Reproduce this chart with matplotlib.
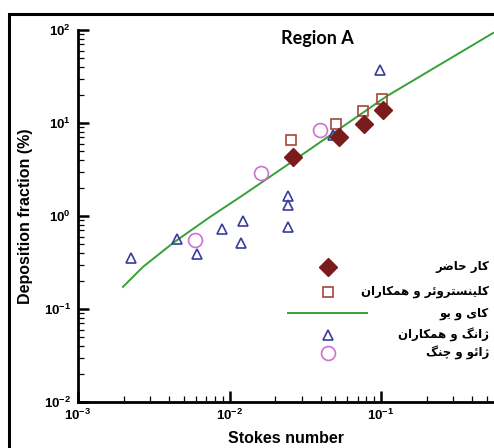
import numpy as np
import matplotlib
import matplotlib.pyplot as plt
from matplotlib import font_manager, ft2font
from matplotlib.patches import Rectangle
from matplotlib.ticker import FuncFormatter

plt.rcParams['mathtext.fontset'] = 'custom'
plt.rcParams['mathtext.rm'] = 'Liberation Sans'
plt.rcParams['mathtext.it'] = 'Liberation Sans:italic'
plt.rcParams['mathtext.bf'] = 'Liberation Sans:bold'

# ---- data ----
present_x = [0.0262, 0.0528, 0.0773, 0.103]
present_y = [4.3, 7.06, 9.75, 13.8]

klein_x = [0.0255, 0.0505, 0.076, 0.1016]
klein_y = [6.56, 9.75, 13.5, 18.1]

cai_x = [0.00198, 0.00268, 0.00424, 0.00743, 0.0123, 0.024, 0.1096, 0.55]
cai_y = [0.173, 0.283, 0.513, 0.975, 1.68, 3.53, 19.5, 93.0]

zhang_x = [0.00224, 0.0045, 0.0061, 0.0089, 0.0123, 0.012, 0.0243, 0.0243, 0.0243, 0.048, 0.0985]
zhang_y = [0.353, 0.566, 0.39, 0.72, 0.88, 0.51, 1.64, 1.31, 0.76, 7.5, 37.0]

zhao_x = [0.0059, 0.0161, 0.0395]
zhao_y = [0.55, 2.9, 8.4]

labels = ['کار حاضر', 'کلینستروئر و همکاران', 'کای و یو', 'ژانگ و همکاران', 'ژائو و چنگ']

# ---- simple Persian shaping (matplotlib has no RTL / joining) ----
FORMS = {
    'ا': (0xFE8D, 0xFE8E), 'ر': (0xFEAD, 0xFEAE), 'و': (0xFEED, 0xFEEE),
    'ژ': (0xFB8A, 0xFB8B),
    'ح': (0xFEA1, 0xFEA2, 0xFEA3, 0xFEA4), 'ض': (0xFEBD, 0xFEBE, 0xFEBF, 0xFEC0),
    'ل': (0xFEDD, 0xFEDE, 0xFEDF, 0xFEE0), 'ن': (0xFEE5, 0xFEE6, 0xFEE7, 0xFEE8),
    'س': (0xFEB1, 0xFEB2, 0xFEB3, 0xFEB4), 'ت': (0xFE95, 0xFE96, 0xFE97, 0xFE98),
    'ئ': (0xFE89, 0xFE8A, 0xFE8B, 0xFE8C), 'ه': (0xFEE9, 0xFEEA, 0xFEEB, 0xFEEC),
    'م': (0xFEE1, 0xFEE2, 0xFEE3, 0xFEE4), 'ک': (0xFB8E, 0xFB8F, 0xFB90, 0xFB91),
    'گ': (0xFB92, 0xFB93, 0xFB94, 0xFB95), 'ی': (0xFBFC, 0xFBFD, 0xFBFE, 0xFBFF),
    'چ': (0xFB7A, 0xFB7B, 0xFB7C, 0xFB7D),
}

fa_font = font_manager.findfont(font_manager.FontProperties(family='DejaVu Sans', weight='bold'))
ftf = ft2font.FT2Font(fa_font)


def shape(s):
    out = []
    for i, c in enumerate(s):
        if c not in FORMS:
            out.append(c)
            continue
        prev = s[i - 1] if i > 0 else None
        nxt = s[i + 1] if i + 1 < len(s) else None
        jp = prev in FORMS and len(FORMS[prev]) == 4
        jn = len(FORMS[c]) == 4 and nxt in FORMS
        f = FORMS[c]
        if jp and jn:
            g = f[3]
        elif jp:
            g = f[1]
        elif jn:
            g = f[2]
        else:
            g = f[0]
        out.append(chr(g) if ftf.get_char_index(g) else c)
    return ''.join(reversed(out))


fig = plt.figure(figsize=(4.94, 4.48), dpi=100)
ax = fig.add_axes([78 / 494, 46 / 448, 416 / 494, 372 / 448])

c_present = '#7b1c1c'
c_klein = '#a8443c'
c_cai = '#38a038'
c_zhang = '#3a3aa0'
c_zhao = '#d070d0'

ax.plot(cai_x, cai_y, color=c_cai, lw=1.4, zorder=2)
ax.plot(zhang_x, zhang_y, '^', ms=7.5, mfc='none', mec=c_zhang, mew=1.2, zorder=3)
ax.plot(zhao_x, zhao_y, 'o', ms=10, mfc='none', mec=c_zhao, mew=1.2, zorder=3)
ax.plot(klein_x, klein_y, 's', ms=7.5, mfc='none', mec=c_klein, mew=1.2, zorder=3)
ax.plot(present_x, present_y, 'D', ms=9.5, color=c_present, zorder=4)

ax.set_xscale('log')
ax.set_yscale('log')
ax.set_xlim(1e-3, 10 ** (-3 + 416 / 151.5))
ax.set_ylim(1e-2, 1e2)

fmt = FuncFormatter(lambda v, p: r'$\mathbf{10^{%d}}$' % round(np.log10(v)))
ax.xaxis.set_major_formatter(fmt)
ax.yaxis.set_major_formatter(fmt)

for s in ['top', 'right']:
    ax.spines[s].set_visible(False)
for s in ['left', 'bottom']:
    ax.spines[s].set_linewidth(2)

ax.tick_params(which='major', direction='in', length=8, width=1.8, labelsize=9.5, pad=5)
ax.tick_params(which='minor', direction='in', length=4, width=0.9)
ax.tick_params(axis='x', which='major', pad=4)

ax.set_xlabel('Stokes number', fontsize=11.5, fontweight='bold', family='Liberation Sans', labelpad=6)
ax.set_ylabel('Deposition fraction (%)', fontsize=11.5, fontweight='bold', family='Liberation Sans', labelpad=8)

ax.text(0.575, 0.978, 'Region A', transform=ax.transAxes, ha='center', va='center',
        fontsize=13, fontweight='bold', family='Lato')

# legend, drawn by hand so the Persian labels are right-aligned
rows = [0.363, 0.296, 0.239, 0.180, 0.132]
mx = 0.601
ax.plot([mx], [rows[0]], 'D', ms=9.5, color=c_present, transform=ax.transAxes, clip_on=False)
ax.plot([mx], [rows[1]], 's', ms=7.5, mfc='none', mec=c_klein, mew=1.2, transform=ax.transAxes, clip_on=False)
ax.plot([0.505, 0.695], [rows[2], rows[2]], color=c_cai, lw=1.4, transform=ax.transAxes, clip_on=False)
ax.plot([mx], [rows[3]], '^', ms=7.5, mfc='none', mec=c_zhang, mew=1.2, transform=ax.transAxes, clip_on=False)
ax.plot([mx], [rows[4]], 'o', ms=10, mfc='none', mec=c_zhao, mew=1.2, transform=ax.transAxes, clip_on=False)
for r, lab in zip(rows, labels):
    ax.text(0.988, r, shape(lab), transform=ax.transAxes, ha='right', va='center',
            fontsize=8.5, fontweight='bold', family='DejaVu Sans')

# outer frame of the original picture
fig.patches.append(Rectangle((9 / 494, -0.1), 1.2, 1.1 - 14 / 448, transform=fig.transFigure,
                             fill=False, ec='black', lw=2.2, zorder=10))

fig.savefig('out.png', dpi=100)
